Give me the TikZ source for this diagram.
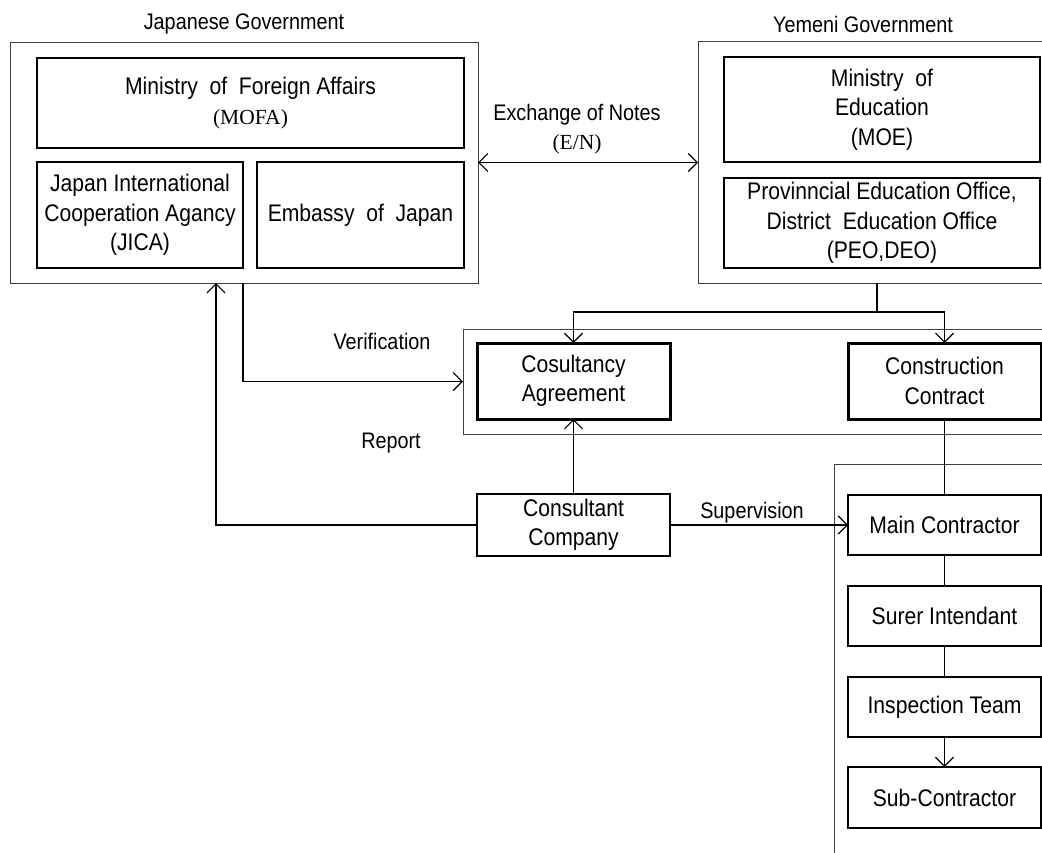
\documentclass[tikz,border=0pt]{standalone}
\usepackage{fontspec}
\setmainfont[FakeStretch=0.88]{Liberation Sans}
\newfontfamily\serifpart{Liberation Serif}
\usetikzlibrary{arrows.meta}
\begin{document}
\begin{tikzpicture}[x=1pt,y=-1pt,
  every node/.style={inner sep=0pt, outer sep=0pt, align=center,
    font=\fontsize{24}{29.5}\selectfont},
  outerbox/.style={draw=black!75, line width=1pt, rectangle},
  inbox/.style={draw, line width=1.6pt, rectangle},
  thickbox/.style={draw, line width=3pt, rectangle},
  plainbox/.style={draw, line width=1.4pt, rectangle},
  lbl/.style={font=\fontsize{22.5}{29.5}\selectfont},
  conn/.style={line width=1.5pt},
  arr/.style={conn, -{Straight Barb[length=9pt,width=18pt,line width=1.2pt]}},
  barr/.style={conn, {Straight Barb[length=9pt,width=18pt,line width=1.2pt]}-{Straight Barb[length=9pt,width=18pt,line width=1.2pt]}}
]
\clip (0,0) rectangle (1042,852);
\fill[white] (0,0) rectangle (1042,852);

% Japanese government
\node[lbl] (jglabel) at (244,24) {Japanese Government};
\node[outerbox, minimum width=468pt, minimum height=241pt] (jgov) at (244,162.5) {};
\node[inbox, minimum width=427pt, minimum height=90pt] (mofa) at (250.5,103)
  {Ministry~ of~ Foreign Affairs\\{\serifpart\fontsize{21.5}{29.5}\selectfont (MOFA)}};
\node[inbox, minimum width=206pt, minimum height=106pt] (jica) at (140,215)
  {Japan International\\Cooperation Agancy\\(JICA)};
\node[inbox, minimum width=207pt, minimum height=106pt] (emb) at (360.5,215)
  {Embassy~ of~ Japan};

% Yemeni government
\node[lbl] (yglabel) at (863,24) {Yemeni Government};
\node[outerbox, minimum width=352pt, minimum height=242pt] (ygov) at (874,162) {};
\node[inbox, minimum width=316pt, minimum height=105pt] (moe) at (882,109.5)
  {Ministry~ of\\Education\\(MOE)};
\node[inbox, minimum width=316pt, minimum height=90pt] (peo) at (882,223)
  {Provinncial Education Office,\\District~ Education Office\\(PEO,DEO)};

% Exchange of notes
\node[lbl] (enlabel) at (577,129)
  {Exchange of Notes\\{\serifpart\fontsize{21.5}{29.5}\selectfont (E/N)}};
\draw[barr] (jgov.east) -- (jgov.east -| ygov.west);

% Contracts
\node[outerbox, minimum width=587pt, minimum height=105pt] (cbox) at (756.5,381.5) {};
\node[thickbox, minimum width=193pt, minimum height=76pt] (cosult) at (573.5,381)
  {Cosultancy\\Agreement};
\node[thickbox, minimum width=193pt, minimum height=76pt] (constr) at (944.5,381)
  {Construction\\Contract};

\coordinate (split) at (877,312);
\draw[conn] (ygov.south -| split) -- (split);
\draw[arr] (split) -| (cosult.north);
\draw[arr] (split) -| (constr.north);

% Verification / report
\node[lbl] (verlabel) at (382,341) {Verification};
\node[lbl] (replabel) at (391,443) {Report};
\draw[arr] (jgov.south -| jica.east) |- (cbox.west);

\node[plainbox, minimum width=193pt, minimum height=62pt] (consultant) at (573.5,525)
  {Consultant\\Company};
\coordinate (repx) at (216,0);
\draw[arr] (consultant.west) -| (jgov.south -| repx);
\draw[arr] (consultant.north) -- (cosult.south);

% Contractors
\node[outerbox, minimum width=216pt, minimum height=406pt] (kbox) at (942,667) {};
\node[plainbox, minimum width=193pt, minimum height=60pt] (main) at (944.5,525) {Main Contractor};
\node[plainbox, minimum width=193pt, minimum height=60pt] (surer) at (944.5,616) {Surer Intendant};
\node[plainbox, minimum width=193pt, minimum height=60pt] (insp) at (944.5,707) {Inspection Team};
\node[plainbox, minimum width=193pt, minimum height=61pt] (sub) at (944.5,797.5) {Sub-Contractor};

\node[lbl] (suplabel) at (752,513) {Supervision};
\draw[arr] (consultant.east) -- (main.west);
\draw[conn] (constr.south) -- (main.north);
\draw[conn] (main.south) -- (surer.north);
\draw[conn] (surer.south) -- (insp.north);
\draw[arr] (insp.south) -- (sub.north);
\end{tikzpicture}
\end{document}
